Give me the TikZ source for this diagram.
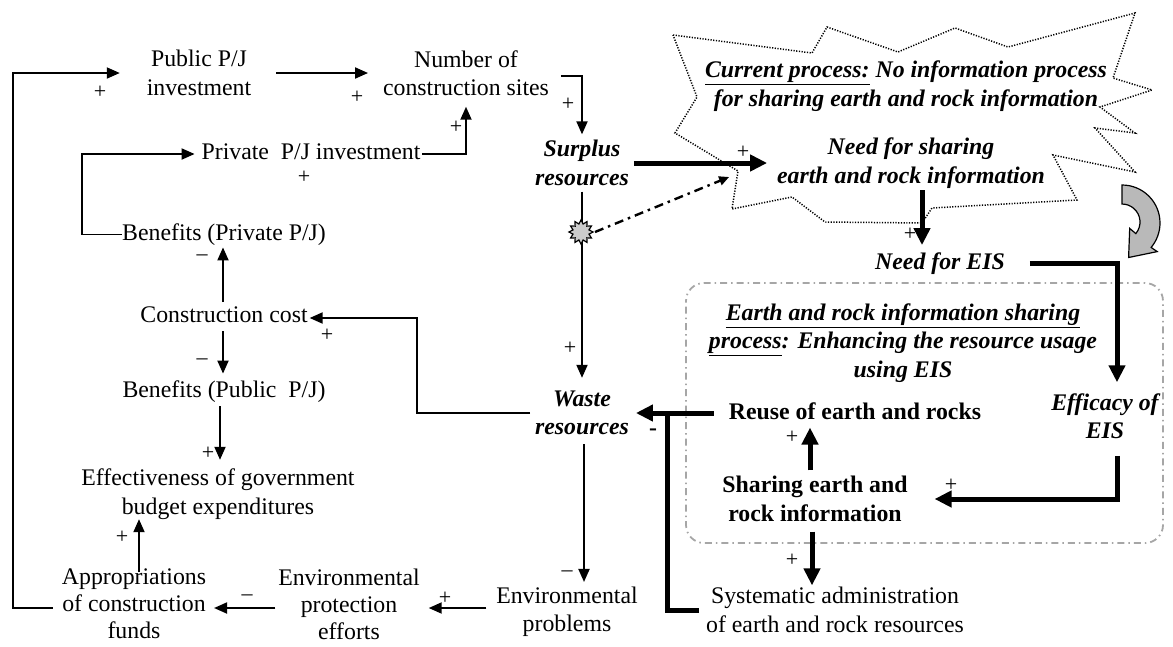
\documentclass[tikz,border=0pt]{standalone}
\usepackage{fontspec}
\setmainfont{Liberation Serif}
\usetikzlibrary{arrows.meta,shapes.geometric}
\begin{document}
\begin{tikzpicture}[x=1pt,y=-1pt,
  every node/.style={inner sep=0pt, outer sep=0pt, align=center, font=\fontsize{23.8}{28.5}\selectfont},
  tight/.style={font=\fontsize{23.8}{27}\selectfont},
  bi/.style={font=\fontsize{23.8}{28.5}\selectfont\bfseries\itshape},
  bo/.style={font=\fontsize{23.8}{28.5}\selectfont\bfseries},
  sgn/.style={font=\fontsize{22}{22}\selectfont},
  arr/.style={line width=1.9pt, -{Triangle[length=13pt,width=11pt]}},
  tarr/.style={line width=5pt, -{Triangle[length=17pt,width=16pt]}},
  tline/.style={line width=5pt},
  dd/.style={line width=2.4pt, dash pattern=on 9pt off 5pt on 2.5pt off 5pt, -{Triangle[length=10pt,width=9pt]}},
  cloudline/.style={line width=1.5pt, dash pattern=on 1.2pt off 1.5pt},
  boxline/.style={line width=1.8pt, gray!70, dash pattern=on 1.5pt off 4pt on 7pt off 4pt, rounded corners=18pt},
]
\useasboundingbox (0,0) rectangle (1173,646);

% cloud of the current process
\draw[cloudline] (673,35) -- (812,53) -- (827,27) -- (898,52) -- (955,28) -- (1008,47) -- (1135,13)
  -- (1113,78) -- (1152,90) -- (1100,107) -- (1135,133) -- (1095,128) -- (1135,172) -- (1053,155)
  -- (1077,200) -- (932,208) -- (922,223) -- (825,222) -- (792,197) -- (732,209) -- (738,171)
  -- (675,133) -- (697,97) -- cycle;

% dotted rounded box
\draw[boxline] (686,283) rectangle (1163,543);

% curved gray arrow
\draw[fill=gray!55, line width=1.2pt] (1122,185) arc[start angle=-90, end angle=40, radius=38]
  -- (1157.2,251.6) -- (1128.6,257.5) -- (1129.7,228.4) -- (1135.8,233.6)
  arc[start angle=40, end angle=-90, radius=18] -- cycle;

% nodes
\node (pub) at (199,73) {Public P/J\\investment};
\node (num) at (466,73) {Number of\\construction sites};
\node (priv) at (311,152) {Private~~P/J investment};
\node[bi] (surp) at (582,163) {Surplus\\resources};
\node (benpriv) at (224,234.5) {Benefits (Private P/J)};
\node (cost) at (224,315) {Construction cost};
\node (benpub) at (224,391.5) {Benefits (Public~~P/J)};
\node (eff) at (218,494) {Effectiveness of government\\budget expenditures};
\node[tight] (approp) at (134,604) {Appropriations\\of construction\\funds};
\node[tight] (envprot) at (349,604) {Environmental\\protection\\efforts};
\node (envprob) at (567,612) {Environmental\\problems};
\node[bi] (waste) at (582,413) {Waste\\resources};
\node[bi] (current) at (906,86) {\underline{Current process:} No information process\\for sharing earth and rock information};
\node[bi] (needshare) at (911,163) {Need for sharing\\earth and rock information};
\node[bi] (needeis) at (940,264) {Need for EIS};
\node[bi] (title) at (903,343) {\underline{Earth and rock information sharing}\\\underline{process}: Enhancing the resource usage\\using EIS};
\node[bi] (effeis) at (1105,416) {Efficacy of\\EIS};
\node[bo] (reuse) at (855,411) {Reuse of earth and rocks};
\node[bo] (sharing) at (815,499) {Sharing earth and\\rock information};
\node (system) at (835,610) {Systematic administration\\of earth and rock resources};

% thin connectors
\draw[arr] ([xshift=-9pt,yshift=-4pt]approp.west) -- ++(-40,0) |- ([xshift=-27pt]pub.west);
\draw[arr] ([xshift=25pt]pub.east) -- ([xshift=-15pt]num.west);
\draw[arr] ([xshift=12pt,yshift=-3pt]num.east) -| ([yshift=6pt]surp.north);
\draw[arr] ([xshift=2pt,yshift=-2pt]priv.east) -| ([yshift=-11pt]num.south);
\draw[arr] (benpriv.west) -- ++(-40,0) |- ([xshift=-7pt,yshift=-2pt]priv.west);
\draw[arr, shorten <=5pt, shorten >=2pt] ([xshift=-1pt]cost.north) -- ([xshift=-1pt]benpriv.south);
\draw[arr, shorten <=8pt, shorten >=7pt] ([xshift=-1pt]cost.south) -- ([xshift=-1pt]benpub.north);
\draw[arr, shorten <=4pt, shorten >=9pt] ([xshift=-4pt]benpub.south) -- ([xshift=-4pt]benpub.south |- eff.north);
\draw[arr] ([xshift=5pt,yshift=-3pt]approp.north) -- ([xshift=5pt]approp.north |- eff.south);
\draw[arr, shorten <=3pt, shorten >=8pt] ([yshift=-4pt]envprot.west) -- ([yshift=-4pt]envprot.west -| approp.east);
\draw[arr, shorten <=10pt, shorten >=9pt] ([yshift=-4pt]envprob.west |- envprot.east) -- ([yshift=-4pt]envprot.east);
\draw[arr] ([yshift=-6pt]surp.south) -- ([yshift=13pt]waste.north);
\draw[arr] ([xshift=-5pt]waste.west) -- ++(-113,0) |- ([xshift=2pt,yshift=-3pt]cost.east);
\draw[arr, shorten >=5pt] ([xshift=2pt,yshift=-9pt]waste.south) -- ([xshift=2pt]waste.south |- envprob.north);

% burst on the surplus-waste link and dash-dot arrow
\node[star, star points=12, star point ratio=1.45, draw, line width=1.2pt, fill=gray!40, minimum size=24pt] (burst) at (581,232) {};
\draw[dd] ([xshift=2pt]burst.east) -- ([xshift=-48pt,yshift=-14pt]needshare.west);

% thick connectors
\draw[tarr] ([xshift=5pt,yshift=0pt]surp.east) -- ([xshift=-10pt]needshare.west);
\draw[tarr, shorten <=2pt, shorten >=8pt] ([xshift=11pt]needshare.south) -- ([xshift=11pt]needshare.south |- needeis.north);
\draw[tarr] ([xshift=25pt,yshift=1pt]needeis.east) -| ([xshift=12pt,yshift=11pt]effeis.north);
\draw[tarr] ([xshift=12pt,yshift=-17pt]effeis.south) |- ([xshift=27pt]sharing.east);
\draw[tarr, shorten >=8pt] ([xshift=-5pt,yshift=6pt]sharing.north) -- ([xshift=-5pt]sharing.north |- reuse.south);
\draw[tarr, shorten >=2pt] ([xshift=-3pt,yshift=-10pt]sharing.south) -- ([xshift=-3pt]sharing.south |- system.north);
\draw[tarr] ([xshift=-15pt,yshift=-2pt]reuse.west) -- ([xshift=7pt,yshift=-2pt]waste.east |- reuse.west);
\draw[tline] ([xshift=-7pt]system.west) -| ([xshift=-61pt,yshift=-2pt]reuse.west);

% polarity signs
\node[sgn] (s1) at (100,92) {+};
\node[sgn] (s2) at (357,97) {+};
\node[sgn] (s3) at (568,104) {+};
\node[sgn] (s4) at (456,127) {+};
\node[sgn] (s5) at (304,177) {+};
\node[sgn] (s6) at (327,335) {+};
\node[sgn] (s7) at (208,453) {+};
\node[sgn] (s8) at (122,537) {+};
\node[sgn] (s9) at (445,598) {+};
\node[sgn] (s10) at (743,152) {+};
\node[sgn] (s11) at (570,348) {+};
\node[sgn] (s12) at (910,234) {+};
\node[sgn] (s13) at (792,437) {+};
\node[sgn] (s14) at (792,560) {+};
\node[sgn] (s15) at (951,485) {+};
\node[sgn] (m1) at (202,258) {–};
\node[sgn] (m2) at (202,362) {–};
\node[sgn] (m3) at (247,598) {–};
\node[sgn] (m4) at (567,574) {–};
\node[bo] (m5) at (653,432) {-};
\end{tikzpicture}
\end{document}
